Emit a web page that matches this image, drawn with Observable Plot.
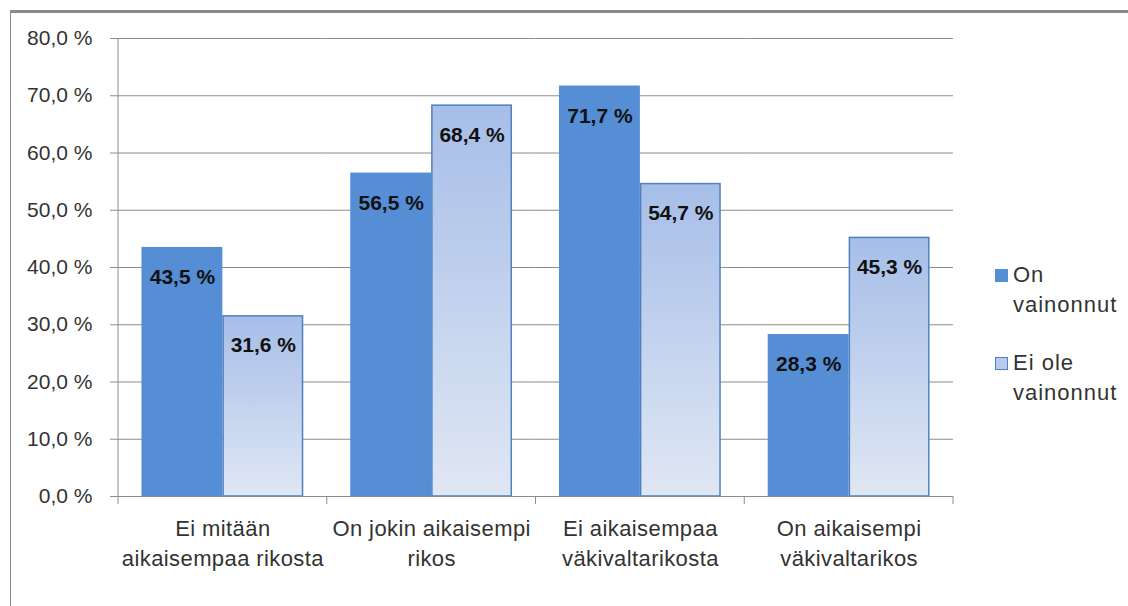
<!DOCTYPE html>
<html><head><meta charset="utf-8">
<script src="https://cdn.jsdelivr.net/npm/d3@7"></script>
<script src="https://cdn.jsdelivr.net/npm/@observablehq/plot@0.6"></script>
<style>
body{margin:0;background:#fff;}
#wrap{position:relative;width:1128px;height:606px;overflow:hidden;font-family:"Liberation Sans",sans-serif;}
#border{position:absolute;left:10px;top:10px;width:1130px;height:610px;border-top:3px solid #8a8a8a;border-left:1px solid #8a8a8a;box-sizing:border-box;}
#chart{position:absolute;left:0;top:0;}
.leg{position:absolute;left:995px;font-size:22px;letter-spacing:1px;color:#333;line-height:30px;}
.sw{position:absolute;left:0;top:9px;width:13px;height:13px;box-sizing:border-box;}
.leg span.t{margin-left:18px;display:block;}
.xlab text{letter-spacing:0.4px;}
</style></head><body>
<div id="wrap">
<div id="border"></div>
<div id="chart"></div>
<div id="legend"></div>
</div>
<script>
const categories = ["Ei mitään aikaisempaa rikosta", "On jokin aikaisempi rikos", "Ei aikaisempaa väkivaltarikosta", "On aikaisempi väkivaltarikos"];
const categoryLines = ["Ei mitään\naikaisempaa rikosta", "On jokin aikaisempi\nrikos", "Ei aikaisempaa\nväkivaltarikosta", "On aikaisempi\nväkivaltarikos"];
const series = ["On vainonnut", "Ei ole vainonnut"];
const legendLines = [["On", "vainonnut"], ["Ei ole", "vainonnut"]];
const onValues = [43.5, 56.5, 71.7, 28.3];
const eiValues = [31.6, 68.4, 54.7, 45.3];
const yTicks = [0, 10, 20, 30, 40, 50, 60, 70, 80];

const darkColor = "#558ed5";
const lightColor = "#b9cbea";
const lightStroke = "#4f81bd";

const data = categories.flatMap((c, i) => [
  {cat: c, s: series[0], v: onValues[i]},
  {cat: c, s: series[1], v: eiValues[i]}
]);
const fmt = v => v.toFixed(1).replace(".", ",") + " %";
const catLabel = c => categoryLines[categories.indexOf(c)];

const plot = Plot.plot({
  width: 1128, height: 606,
  marginLeft: 118, marginRight: 175, marginTop: 38, marginBottom: 110,
  style: {fontFamily: "Liberation Sans, sans-serif", background: "transparent", overflow: "visible"},
  fx: {domain: categories, padding: 0, label: null, axis: null, round: false},
  x: {domain: series, paddingInner: 0, paddingOuter: 0.29, axis: null, round: false},
  y: {domain: [0, 80], label: null, axis: null},
  marks: [
    Plot.gridY(yTicks, {stroke: "#8c8c8c", strokeOpacity: 1, strokeWidth: 1}),
    Plot.axisY(yTicks, {tickSize: 8, tickPadding: 18, tickFormat: d => fmt(d), fontSize: 21, fill: "#333", stroke: "#8c8c8c", strokeOpacity: 1, label: null}),
    Plot.axisFx({anchor: "bottom", tickSize: 0, tickPadding: 18, tickFormat: catLabel, fontSize: 22, fill: "#333", lineHeight: 1.36, label: null, className: "xlab"}),
    Plot.barY(data.filter(d => d.s === series[0]), {fx: "cat", x: "s", y: "v", fill: darkColor}),
    Plot.barY(data.filter(d => d.s === series[1]), {fx: "cat", x: "s", y: "v", fill: "url(#lightGrad)", stroke: lightStroke, strokeWidth: 1.5, insetTop: 0.75, insetLeft: 0.75, insetRight: 0.75}),
    Plot.ruleY([0], {stroke: "#8c8c8c"}),
    Plot.text(data, {fx: "cat", x: "s", y: "v", text: d => fmt(d.v), dy: 30, fontWeight: "bold", fontSize: 21, fill: "#111"})
  ]
});

const sel = d3.select(plot);
const defs = sel.insert("defs", ":first-child");
const g = defs.append("linearGradient").attr("id", "lightGrad").attr("x1", 0).attr("y1", 0).attr("x2", 0).attr("y2", 1);
g.append("stop").attr("offset", 0).attr("stop-color", "#a6bee8");
g.append("stop").attr("offset", 1).attr("stop-color", "#e0e7f4");

// axis line and category boundary ticks from the plot's own scales
const fx = plot.scale("fx"), y = plot.scale("y");
const y0 = y.apply(0), yTop = y.apply(80);
const bounds = categories.map(c => fx.apply(c)).concat([fx.apply(categories[categories.length - 1]) + fx.bandwidth]);
const extra = sel.append("g").attr("stroke", "#8c8c8c").attr("fill", "none");
extra.append("line").attr("x1", bounds[0]).attr("x2", bounds[0]).attr("y1", yTop).attr("y2", y0);
bounds.forEach(b => extra.append("line").attr("x1", b).attr("x2", b).attr("y1", y0).attr("y2", y0 + 8));

document.getElementById("chart").appendChild(plot);

// legend
const leg = document.getElementById("legend");
const legTops = [260, 348];
series.forEach((s, i) => {
  const div = document.createElement("div");
  div.className = "leg";
  div.style.top = legTops[i] + "px";
  const sw = document.createElement("div");
  sw.className = "sw";
  if (i === 0) sw.style.background = darkColor;
  else { sw.style.background = lightColor; sw.style.border = "1px solid " + lightStroke; }
  div.appendChild(sw);
  legendLines[i].forEach(t => { const sp = document.createElement("span"); sp.className = "t"; sp.textContent = t; div.appendChild(sp); });
  leg.appendChild(div);
});
</script>
</body></html>
